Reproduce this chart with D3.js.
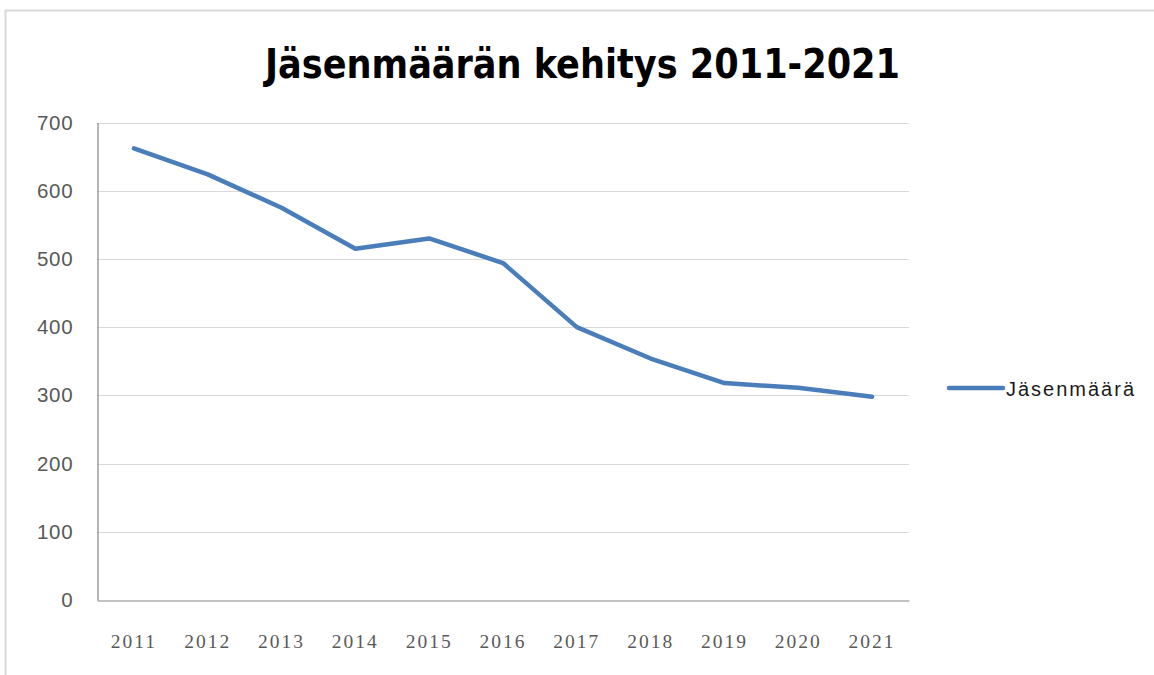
<!DOCTYPE html>
<html><head><meta charset="utf-8">
<script src="https://cdn.jsdelivr.net/npm/d3@7"></script>
<style>html,body{margin:0;padding:0;background:#fff;}svg{display:block;}</style>
</head><body>
<script>
const years = ["2011","2012","2013","2014","2015","2016","2017","2018","2019","2020","2021"];
const members = [662, 624, 575, 515, 530, 494, 400, 354, 318, 311, 298];
const yTicks = [0, 100, 200, 300, 400, 500, 600, 700];
const seriesName = "Jäsenmäärä";
const titleText = "Jäsenmäärän kehitys 2011-2021";

const W = 1154, H = 675;
const svg = d3.select("body").append("svg").attr("width", W).attr("height", H);

// outer frame
svg.append("line").attr("x1",5).attr("x2",W).attr("y1",10.5).attr("y2",10.5).attr("stroke","#d9d9d9").attr("stroke-width",2);
svg.append("line").attr("x1",5.5).attr("x2",5.5).attr("y1",10).attr("y2",H).attr("stroke","#d9d9d9").attr("stroke-width",2);

const x = d3.scaleBand().domain(years).range([97, 909]);
const y = d3.scaleLinear().domain([0, 700]).range([600, 122.5]);

// gridlines
svg.append("g").selectAll("line").data(yTicks.filter(d => d > 0)).join("line")
  .attr("x1", 97).attr("x2", 909)
  .attr("y1", d => Math.round(y(d)) + 0.5).attr("y2", d => Math.round(y(d)) + 0.5)
  .attr("stroke", "#d9d9d9").attr("stroke-width", 1);

// axes
const yAxis = d3.axisLeft(y).tickValues(yTicks).tickSize(0).tickPadding(24);
const gy = svg.append("g").attr("transform","translate(97.5,0)").call(yAxis);
gy.select(".domain").attr("stroke","#868686").attr("stroke-width",1.2);
gy.selectAll("text").attr("fill","#595959").style("font-family","'Liberation Sans', Arial, sans-serif").style("font-size","20.5px").style("letter-spacing","0.8px");

const xAxis = d3.axisBottom(x).tickSize(0).tickPadding(34);
const gx = svg.append("g").attr("transform","translate(0,600.5)").call(xAxis);
gx.select(".domain").attr("stroke","#868686").attr("stroke-width",1.2);
gx.selectAll("text").attr("fill","#595959").style("font-family","'Liberation Serif', 'DejaVu Serif', serif").style("font-size","19.5px").style("letter-spacing","2px");

// line
const line = d3.line().x((d,i) => x(years[i]) + x.bandwidth()/2).y(d => y(d));
svg.append("path").datum(members).attr("d", line)
  .attr("fill","none").attr("stroke","#4a7ebb").attr("stroke-width",4.5)
  .attr("stroke-linejoin","round").attr("stroke-linecap","round");

// legend
svg.append("line").attr("x1",949).attr("x2",1003).attr("y1",388).attr("y2",388)
  .attr("stroke","#4a7ebb").attr("stroke-width",4.5).attr("stroke-linecap","round");
svg.append("text").attr("x",1006).attr("y",396).text(seriesName)
  .attr("fill","#1a1a1a").style("font-family","'Liberation Sans', Arial, sans-serif").style("font-size","20px")
  .attr("textLength",128).attr("lengthAdjust","spacing");

// title
svg.append("text").attr("x",265).attr("y",78).text(titleText)
  .attr("fill","#000").style("font-family","'Liberation Sans Narrow', 'DejaVu Sans Condensed', 'Liberation Sans', sans-serif")
  .style("font-weight","bold").style("font-size","41px")
  .attr("textLength",635).attr("lengthAdjust","spacingAndGlyphs");
</script>
</body></html>
